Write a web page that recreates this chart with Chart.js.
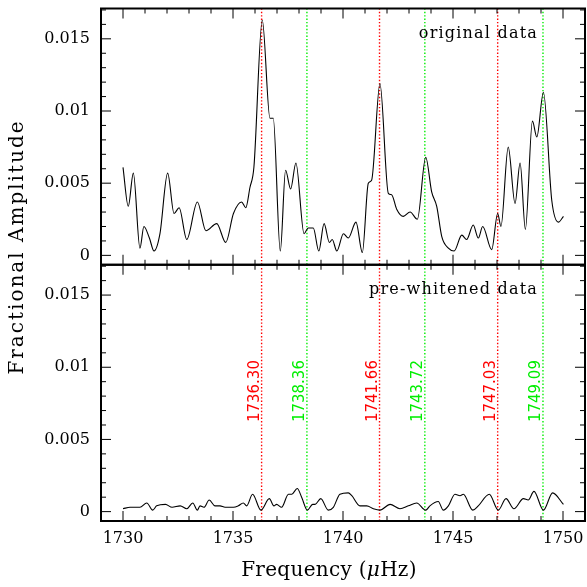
<!DOCTYPE html>
<html>
<head>
<meta charset="utf-8">
<script src="https://cdn.jsdelivr.net/npm/chart.js@4.4.0/dist/chart.umd.min.js"></script>
<style>
  html, body { margin: 0; padding: 0; background: #fff; }
</style>
</head>
<body>
<canvas id="spectrum" width="587" height="587"></canvas>
<script>
// original data (top panel)
const freqTop = [1730.00, 1730.24, 1730.47, 1730.77, 1730.95, 1731.20, 1731.41, 1731.68, 1732.03, 1732.32,
  1732.55, 1732.90, 1733.38, 1733.77, 1734.26, 1734.67, 1735.02, 1735.39, 1735.58, 1735.77,
  1735.95, 1736.33, 1736.68, 1736.83, 1737.15, 1737.39, 1737.62, 1737.86, 1738.23, 1738.42,
  1738.65, 1738.90, 1739.14, 1739.38, 1739.51, 1739.72, 1740.02, 1740.24, 1740.59, 1740.88,
  1741.15, 1741.30, 1741.68, 1742.06, 1742.21, 1742.44, 1742.74, 1743.05, 1743.38, 1743.76,
  1744.03, 1744.26, 1744.49, 1744.79, 1745.05, 1745.40, 1745.62, 1745.92, 1746.15, 1746.35,
  1746.76, 1747.03, 1747.18, 1747.51, 1747.82, 1748.05, 1748.29, 1748.61, 1748.81, 1749.11,
  1749.49, 1749.79, 1750.02];
const ampTop = [0.0061, 0.0034, 0.0057, 0.0005, 0.0020, 0.0012, 0.0003, 0.0015, 0.0057, 0.0029,
  0.0033, 0.0011, 0.0037, 0.0017, 0.0022, 0.0009, 0.0029, 0.0037, 0.0033, 0.0047,
  0.0061, 0.0163, 0.0095, 0.0095, 0.0003, 0.0059, 0.0046, 0.0064, 0.0015, 0.0019,
  0.0019, 0.0003, 0.0022, 0.0009, 0.0011, 0.0003, 0.0015, 0.0012, 0.0023, 0.0002,
  0.0050, 0.0052, 0.0119, 0.0043, 0.0042, 0.0032, 0.0027, 0.0030, 0.0025, 0.0068,
  0.0044, 0.0034, 0.0013, 0.0005, 0.0003, 0.0014, 0.0011, 0.0021, 0.0012, 0.0020,
  0.0004, 0.0029, 0.0020, 0.0075, 0.0036, 0.0064, 0.0018, 0.0093, 0.0082, 0.0113,
  0.0038, 0.0023, 0.0027];

// pre-whitened data (bottom panel)
const freqBot = [1730.00, 1730.32, 1730.77, 1731.08, 1731.35, 1731.53, 1731.93, 1732.23, 1732.60, 1732.90,
  1733.17, 1733.38, 1733.50, 1733.68, 1733.92, 1734.18, 1734.41, 1734.64, 1735.02, 1735.24,
  1735.47, 1735.62, 1735.89, 1736.27, 1736.65, 1736.86, 1736.98, 1737.21, 1737.52, 1737.67,
  1737.92, 1738.12, 1738.38, 1738.62, 1738.73, 1738.99, 1739.33, 1739.56, 1739.86, 1740.24,
  1740.40, 1740.77, 1741.08, 1741.38, 1741.68, 1742.14, 1742.59, 1742.97, 1743.35, 1743.76,
  1743.95, 1744.33, 1744.56, 1744.79, 1745.09, 1745.32, 1745.47, 1745.90, 1746.15, 1746.65,
  1747.06, 1747.41, 1747.77, 1748.20, 1748.42, 1748.68, 1749.11, 1749.53, 1750.02];
const ampBot = [0.0002, 0.0003, 0.0003, 0.0006, 0.0001, 0.0004, 0.0005, 0.0003, 0.0004, 0.0002,
  0.0006, 0.0001, 0.0004, 0.0003, 0.0008, 0.0004, 0.0004, 0.0003, 0.0003, 0.0004,
  0.0006, 0.0004, 0.0012, 0.0001, 0.0009, 0.0004, 0.0005, 0.0003, 0.0012, 0.0012,
  0.0016, 0.0010, 0.0001, 0.0005, 0.0005, 0.0009, 0.0001, 0.0003, 0.0012, 0.0013,
  0.0011, 0.0004, 0.0004, 0.0002, 0.0001, 0.0005, 0.0002, 0.0004, 0.0006, 0.0001,
  0.0004, 0.0007, 0.0001, 0.0004, 0.0012, 0.0011, 0.0012, 0.0001, 0.0004, 0.0012,
  0.0001, 0.0009, 0.0002, 0.0009, 0.0008, 0.0014, 0.0001, 0.0013, 0.0005];

// identified frequencies
const markFreqs = [1736.30, 1738.36, 1741.66, 1743.72, 1747.03, 1749.09];
const markLabels = ["1736.30", "1738.36", "1741.66", "1743.72", "1747.03", "1749.09"];
const markColors = ["#ff0000", "#00ee00", "#ff0000", "#00ee00", "#ff0000", "#00ee00"];

const xTicks = [1730, 1735, 1740, 1745, 1750];
const yTicks = [0, 0.005, 0.01, 0.015];
const xMin = 1729, xMax = 1751;
const yMin = -0.00065, yMax = 0.0171;

const toPts = (xs, ys) => xs.map((x, i) => ({ x: x, y: ys[i] }));

const datasets = [
  { data: toPts(freqTop, ampTop), yAxisID: "yTop", borderColor: "#000", borderWidth: 1.1,
    pointRadius: 0, cubicInterpolationMode: "monotone" },
  { data: toPts(freqBot, ampBot), yAxisID: "yBot", borderColor: "#000", borderWidth: 1.1,
    pointRadius: 0, cubicInterpolationMode: "monotone" },
];
markFreqs.forEach((f, i) => {
  ["yTop", "yBot"].forEach((id) => {
    datasets.push({
      data: [{ x: f, y: yMin }, { x: f, y: yMax }],
      yAxisID: id, borderColor: markColors[i], borderWidth: 1.4,
      borderDash: [1.4, 2], pointRadius: 0,
    });
  });
});

function yScale() {
  return {
    type: "linear", position: "left", stack: "amp", stackWeight: 1,
    min: yMin, max: yMax,
    grid: { display: false, drawTicks: false }, border: { display: false },
    afterBuildTicks: (s) => { s.ticks = yTicks.map((v) => ({ value: v })); },
    ticks: {
      padding: 11, color: "#000",
      font: { family: "DejaVu Serif", size: 16 },
      callback: (v) => String(Number(v.toFixed(4))),
    },
    afterFit: (s) => { s.width = 101; s.paddingTop = 0; s.paddingBottom = 0; },
  };
}

// frames, ticks, labels and titles
const decor = {
  id: "decor",
  afterDatasetsDraw(chart) {
    const { ctx, chartArea: a } = chart;
    const x = chart.scales.x;
    const panels = [chart.scales.yTop, chart.scales.yBot];
    ctx.save();
    panels.forEach((ys) => {
      const t = ys.top, b = ys.bottom;
      ctx.strokeStyle = "#000";
      ctx.lineWidth = 1;
      ctx.beginPath();
      for (let f = xMin + 1; f < xMax; f++) {
        const px = x.getPixelForValue(f);
        const len = f % 5 === 0 ? 10 : 5;
        ctx.moveTo(px, t); ctx.lineTo(px, t + len);
        ctx.moveTo(px, b); ctx.lineTo(px, b - len);
      }
      for (let k = 0; k <= 17; k++) {
        const py = ys.getPixelForValue(k / 1000);
        const len = k % 5 === 0 ? 10 : 5;
        ctx.moveTo(a.left, py); ctx.lineTo(a.left + len, py);
        ctx.moveTo(a.right, py); ctx.lineTo(a.right - len, py);
      }
      ctx.stroke();
      ctx.lineWidth = 2;
      ctx.strokeRect(a.left, t, a.right - a.left, b - t);
    });

    // frequency labels in the lower panel
    const yb = chart.scales.yBot;
    ctx.font = '15px "DejaVu Sans"';
    ctx.textAlign = "left";
    ctx.textBaseline = "alphabetic";
    markFreqs.forEach((f, i) => {
      ctx.save();
      ctx.translate(x.getPixelForValue(f) - 3, yb.getPixelForValue(0.0062));
      ctx.rotate(-Math.PI / 2);
      ctx.fillStyle = markColors[i];
      ctx.fillText(markLabels[i], 0, 0);
      ctx.restore();
    });

    // panel captions
    ctx.fillStyle = "#000";
    ctx.font = '16px "DejaVu Serif"';
    ctx.letterSpacing = "1.2px";
    ctx.textAlign = "right";
    ctx.textBaseline = "middle";
    ctx.fillText("original data", a.right - 47, chart.scales.yTop.top + 25);
    ctx.fillText("pre-whitened data", a.right - 47, yb.top + 25);

    // axis titles
    ctx.letterSpacing = "0.3px";
    const parts = [["Frequency (", "normal"], ["\u03bc", "italic"], ["Hz)", "normal"]];
    let total = 0;
    parts.forEach((p) => { ctx.font = p[1] + ' 20px "DejaVu Serif"'; total += ctx.measureText(p[0]).width; });
    let cx = 329 - total / 2;
    ctx.textAlign = "left";
    parts.forEach((p) => {
      ctx.font = p[1] + ' 20px "DejaVu Serif"';
      ctx.fillText(p[0], cx, 571);
      cx += ctx.measureText(p[0]).width;
    });

    ctx.save();
    ctx.font = '20px "DejaVu Serif"';
    ctx.letterSpacing = "2px";
    ctx.translate(18, 247);
    ctx.rotate(-Math.PI / 2);
    ctx.textAlign = "center";
    ctx.fillText("Fractional Amplitude", 0, 0);
    ctx.restore();
    ctx.restore();
  },
};

new Chart(document.getElementById("spectrum"), {
  type: "line",
  data: { datasets: datasets },
  options: {
    responsive: false,
    animation: false,
    devicePixelRatio: 1,
    layout: { padding: { top: 8.5, right: 2, left: 0, bottom: 0 } },
    plugins: { legend: { display: false }, tooltip: { enabled: false } },
    scales: {
      x: {
        type: "linear", position: "bottom", min: xMin, max: xMax,
        grid: { display: false, drawTicks: false }, border: { display: false },
        afterBuildTicks: (s) => { s.ticks = xTicks.map((v) => ({ value: v })); },
        ticks: {
          padding: 8, color: "#000", maxRotation: 0,
          font: { family: "DejaVu Serif", size: 16 },
          callback: (v) => String(v),
        },
        afterFit: (s) => { s.height = 66; s.paddingLeft = 0; s.paddingRight = 0; },
      },
      yBot: yScale(),
      yTop: yScale(),
    },
  },
  plugins: [decor],
});
</script>
</body>
</html>
